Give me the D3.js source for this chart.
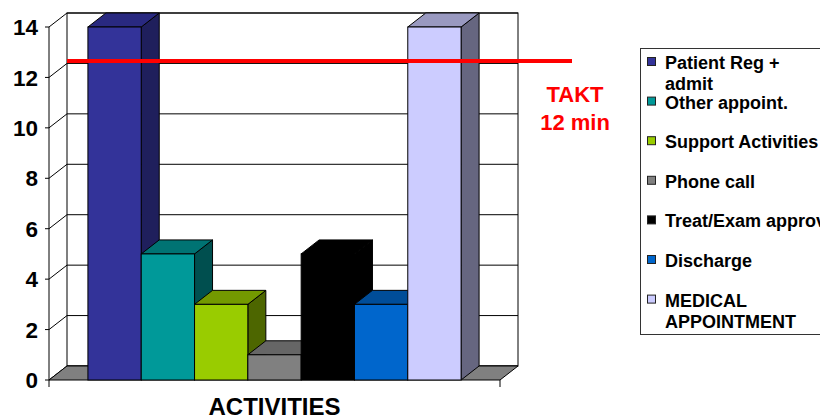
<!DOCTYPE html>
<html><head><meta charset="utf-8">
<script src="https://cdn.jsdelivr.net/npm/d3@7"></script>
<style>html,body{margin:0;padding:0;background:#fff;}svg{display:block;}</style>
</head><body>
<svg id="chart" width="820" height="418"></svg>
<script>
const categories = ["Patient Reg + admit","Other appoint.","Support Activities","Phone call","Treat/Exam approv","Discharge","MEDICAL APPOINTMENT"];
const legendLines = [["Patient Reg +","admit"],["Other appoint."],["Support Activities"],["Phone call"],["Treat/Exam approv"],["Discharge"],["MEDICAL","APPOINTMENT"]];
const values = [14,5,3,1,5,3,14];
const frontColors = ["#333399","#009999","#99cc00","#808080","#000000","#0066cc","#ccccff"];
const topColors   = ["#292980","#007373","#739900","#666666","#000000","#004d99","#9999c0"];
const sideColors  = ["#1f1f5c","#004f4f","#4d6600","#4d4d4d","#000000","#003d7a","#666680"];
const yTicks = [0,2,4,6,8,10,12,14];
const taktValue = 12.1;
const taktLabel = ["TAKT","12 min"];
const xTitle = "ACTIVITIES";

const svg = d3.select("#chart");
const font = "'Liberation Sans', Arial, sans-serif";
const dx = 18, dy = -14;
const x0 = 49, x1 = 500;
const y = d3.scaleLinear().domain([0,14]).range([380,27]);
const x = d3.scaleBand().domain(categories).range([x0,x1]).paddingInner(0).paddingOuter(0.73);

const g = svg.append("g");
// back wall
g.append("rect").attr("x",x0+dx).attr("y",y(14)+dy).attr("width",x1-x0).attr("height",y(0)-y(14))
 .attr("fill","#fff").attr("stroke","#000").attr("stroke-width",1);
// gridlines on back wall and left wall
yTicks.forEach(v=>{
  g.append("line").attr("x1",x0+dx).attr("x2",x1+dx).attr("y1",y(v)+dy).attr("y2",y(v)+dy).attr("stroke","#000").attr("stroke-width",1);
  g.append("line").attr("x1",x0).attr("x2",x0+dx).attr("y1",y(v)).attr("y2",y(v)+dy).attr("stroke","#000").attr("stroke-width",1);
});
// floor
g.append("path").attr("d",`M${x0},${y(0)}L${x1},${y(0)}L${x1+dx},${y(0)+dy}L${x0+dx},${y(0)+dy}Z`)
 .attr("fill","#808080").attr("stroke","#000").attr("stroke-width",1);
// y axis front line and ticks
g.append("line").attr("x1",x0).attr("x2",x0).attr("y1",y(0)).attr("y2",y(14)).attr("stroke","#000");
yTicks.forEach(v=>{
  g.append("line").attr("x1",x0-4).attr("x2",x0).attr("y1",y(v)).attr("y2",y(v)).attr("stroke","#000");
  g.append("text").attr("x",38).attr("y",y(v)).attr("dy","0.36em").attr("text-anchor","end")
   .attr("font-family",font).attr("font-weight","bold").attr("font-size",22.5).text(v);
});
// x axis ticks
[x0,x1].forEach(px=>g.append("line").attr("x1",px).attr("x2",px).attr("y1",y(0)).attr("y2",y(0)+7).attr("stroke","#000"));

// bars
categories.forEach((c,i)=>{
  const bx = x(c), bw = x.bandwidth(), top = y(values[i]), bot = y(0);
  const bg = g.append("g");
  bg.append("path").attr("d",`M${bx+bw},${bot}L${bx+bw+dx},${bot+dy}L${bx+bw+dx},${top+dy}L${bx+bw},${top}Z`)
    .attr("fill",sideColors[i]).attr("stroke","#000").attr("stroke-width",1).attr("stroke-linejoin","round");
  bg.append("path").attr("d",`M${bx},${top}L${bx+dx},${top+dy}L${bx+bw+dx},${top+dy}L${bx+bw},${top}Z`)
    .attr("fill",topColors[i]).attr("stroke","#000").attr("stroke-width",1).attr("stroke-linejoin","round");
  bg.append("rect").attr("x",bx).attr("y",top).attr("width",bw).attr("height",bot-top)
    .attr("fill",frontColors[i]).attr("stroke","#000").attr("stroke-width",1);
});

// takt line
g.append("line").attr("x1",x0+dx).attr("x2",572).attr("y1",y(taktValue)+dy).attr("y2",y(taktValue)+dy)
 .attr("stroke","#ff0000").attr("stroke-width",4);
taktLabel.forEach((t,i)=>g.append("text").attr("x",575).attr("y",102+i*28).attr("text-anchor","middle")
  .attr("font-family",font).attr("font-weight","bold").attr("font-size",22).attr("fill","#ff0000").text(t));

// x title
g.append("text").attr("x",(x0+x1)/2).attr("y",415).attr("text-anchor","middle")
 .attr("font-family",font).attr("font-weight","bold").attr("font-size",24).text(xTitle);

// legend
const lg = svg.append("g");
lg.append("rect").attr("x",640.5).attr("y",48.5).attr("width",220).attr("height",286)
  .attr("fill","#fff").attr("stroke","#333").attr("stroke-width",1);
legendLines.forEach((lines,i)=>{
  const ly = 57 + i*39.6;
  lg.append("rect").attr("x",647.5).attr("y",ly+0.5).attr("width",8).attr("height",8)
    .attr("fill",frontColors[i]).attr("stroke","#222").attr("stroke-width",1);
  lines.forEach((t,j)=>lg.append("text").attr("x",665).attr("y",ly+12+j*21)
    .attr("font-family",font).attr("font-weight","bold").attr("font-size",18).text(t));
});
</script>
</body></html>
